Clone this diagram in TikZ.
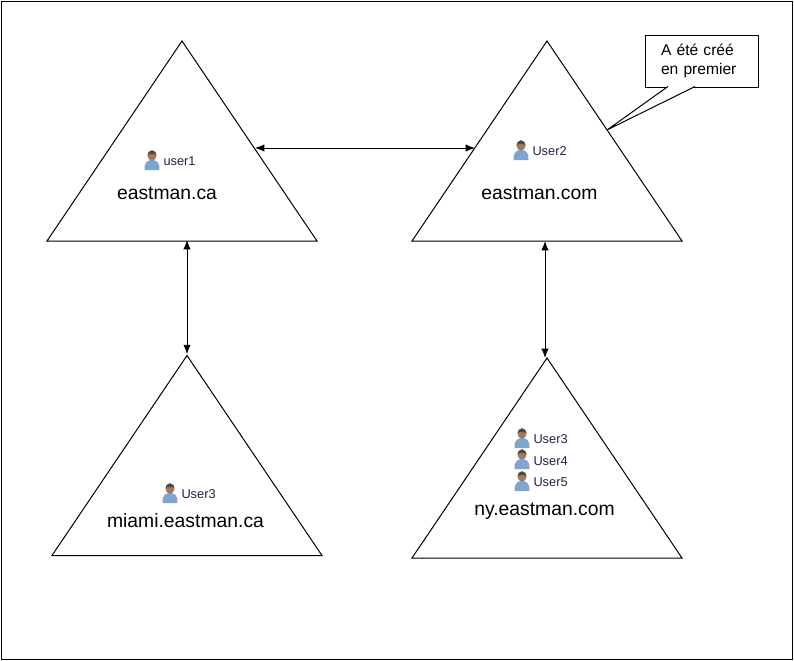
\documentclass[tikz,border=0pt]{standalone}
\usepackage{fontspec}
\setmainfont{Liberation Sans}
\usepackage{tikz}
\usetikzlibrary{arrows.meta,positioning,shapes.geometric}
\definecolor{skinbrown}{RGB}{165,120,90}
\definecolor{hairgray}{RGB}{75,72,72}
\definecolor{shirtblue}{RGB}{125,165,205}
\definecolor{usertext}{RGB}{30,35,70}
\tikzset{
  treetri/.style={draw, shape=isosceles triangle, isosceles triangle stretches, shape border rotate=90, inner sep=0pt, minimum width=270*0.75pt, minimum height=200*0.75pt, anchor=lower side, line width=0.75pt},
  domainlabel/.style={font=\fontsize{14.5pt}{16pt}\selectfont},
  username/.style={font=\fontsize{9.6pt}{11pt}\selectfont, text=usertext, inner sep=0pt, anchor=west},
  usericon/.pic={
    \fill[shirtblue] (-7.5,10) .. controls (-8,2) and (-4,0) .. (0,0) .. controls (4,0) and (8,2) .. (7.5,10) -- cycle;
    \fill[skinbrown] (0,-4.5) ellipse (4.5 and 5.2);
    \fill[hairgray] (-4.5,-4.5) arc (180:360:4.5 and 5.2) -- (2.5,-6) -- (-2.5,-6) -- cycle;
  }
}
\begin{document}
\begin{tikzpicture}[>={Latex[length=7pt,width=5.5pt]}, x=0.75pt, y=-0.75pt, line width=0.75pt]
      \useasboundingbox (0,0) rectangle (794,661);
      \node[draw, minimum width=791*0.75pt, minimum height=658*0.75pt, inner sep=0pt, line width=0.75pt] (frame) at (396.5,330) {};
      % triangles
      \node[treetri] (tca) at (182,241.5) {};
      \node[treetri] (tcom) at (547,241.5) {};
      \node[treetri] (tmiami) at (187,556) {};
      \node[treetri] (tny) at (547,558.5) {};
      \node[domainlabel] (lca) at (167,193) {eastman.ca};
      \node[domainlabel] (lcom) at (539.5,193) {eastman.com};
      \node[domainlabel] (lmiami) at (185.5,521) {miami.eastman.ca};
      \node[domainlabel] (lny) at (544.5,511) {ny.eastman.com};
      % users
      \pic at (152,160) {usericon};
      \node[username] (u1) at (163,161) {user1};
      \pic at (521,150) {usericon};
      \node[username] (u2) at (532,151) {User2};
      \pic at (170,493) {usericon};
      \node[username] (u6) at (181,494) {User3};
      \pic at (522,438) {usericon};
      \node[username] (u3) at (533,439) {User3};
      \pic at (522,459) {usericon};
      \node[username] (u4) at (533,461) {User4};
      \pic at (522,481) {usericon};
      \node[username] (u5) at (533,482) {User5};
      % links
      \coordinate (ca1) at (255,148);
      \coordinate (com1) at (475,148);
      \coordinate (ca2) at (187,240);
      \coordinate (com2) at (545,241);
      \coordinate (ny2) at (545,358);
      \draw[<->] (ca1) -- (com1);
      \draw[<->] (ca2) -- (tmiami.apex);
      \draw[<->] (com2) -- (ny2);
      % note
      \node[draw, fill=white, minimum width=113*0.75pt, minimum height=52*0.75pt, inner sep=0pt, align=left, font=\fontsize{11.7pt}{14.2pt}\selectfont, text width=81*0.75pt] (note) at (701.5,61) {A été créé\\en premier};
      \coordinate (tip) at (607,130);
      \coordinate (base1) at (668,86.5);
      \coordinate (base2) at (695,86.5);
      \draw[fill=white] (base1) -- (tip) -- (base2);
    \end{tikzpicture}
\end{document}
